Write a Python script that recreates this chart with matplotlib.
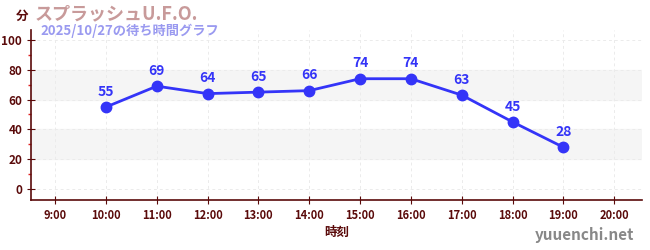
import matplotlib.pyplot as plt
from matplotlib.ticker import MultipleLocator

plt.rcParams['font.family'] = ['Noto Sans CJK JP', 'DejaVu Sans']

# wait times (minutes) by hour
hours = [10, 11, 12, 13, 14, 15, 16, 17, 18, 19]
waits = [55, 69, 64, 65, 66, 74, 74, 63, 45, 28]
tick_hours = list(range(9, 21))
tick_labels = [f'{h}:00' for h in tick_hours]

title = 'スプラッシュU.F.O.'
subtitle = '2025/10/27の待ち時間グラフ'

dark = '#5a0a0a'
blue = '#3434f8'

fig = plt.figure(figsize=(6.5, 2.5), dpi=100)
ax = fig.add_axes([0.048, 0.2, 0.94, 0.68])

# alternating light bands
for lo in (20, 60):
    ax.axhspan(lo, lo + 20, color='#f5f5f5', zorder=0)

ax.plot(hours, waits, color=blue, lw=2, marker='o', ms=7.5, zorder=3)
for h, w in zip(hours, waits):
    ax.annotate(str(w), (h, w), xytext=(0, 6), textcoords='offset points',
                ha='center', va='bottom', color=blue, fontsize=10, fontweight='bold')

ax.set_xlim(8.53, 20.55)
ax.set_ylim(-7.4, 106.7)
ax.set_xticks(tick_hours)
ax.set_xticklabels(tick_labels)
ax.set_yticks(range(0, 101, 20))
ax.yaxis.set_minor_locator(MultipleLocator(10))

ax.grid(True, which='major', color='#ebebeb', ls=(0, (3, 3)), lw=0.7)
ax.set_axisbelow(True)

for s in ('top', 'right'):
    ax.spines[s].set_visible(False)
for s in ('left', 'bottom'):
    ax.spines[s].set_color(dark)
    ax.spines[s].set_linewidth(1.2)

ax.tick_params(axis='both', which='major', colors=dark, labelsize=8.5, direction='inout', length=6)
ax.tick_params(axis='y', which='minor', color='#e02020', direction='out', length=2.5, width=1)
ax.tick_params(axis='x', which='minor', length=0)
for lab in ax.get_xticklabels() + ax.get_yticklabels():
    lab.set_fontweight('bold')
    lab.set_color(dark)
for lab in ax.get_xticklabels():
    lab.set_fontsize(8)

ax.set_xlabel('時刻', color=dark, fontsize=9, fontweight='bold', labelpad=3)

fig.text(0.025, 0.935, '分', color=dark, fontsize=9, fontweight='bold', ha='left', va='center')
fig.text(0.054, 0.945, title, color='#c89a9a', fontsize=13, fontweight='bold', ha='left', va='center')
fig.text(0.063, 0.875, subtitle, color='#9a9af0', fontsize=9.5, fontweight='bold', ha='left', va='center')
fig.text(0.975, 0.06, 'yuuenchi.net', color='#888888', fontsize=11, fontweight='bold', ha='right', va='center')

fig.savefig('out.png', dpi=100)
